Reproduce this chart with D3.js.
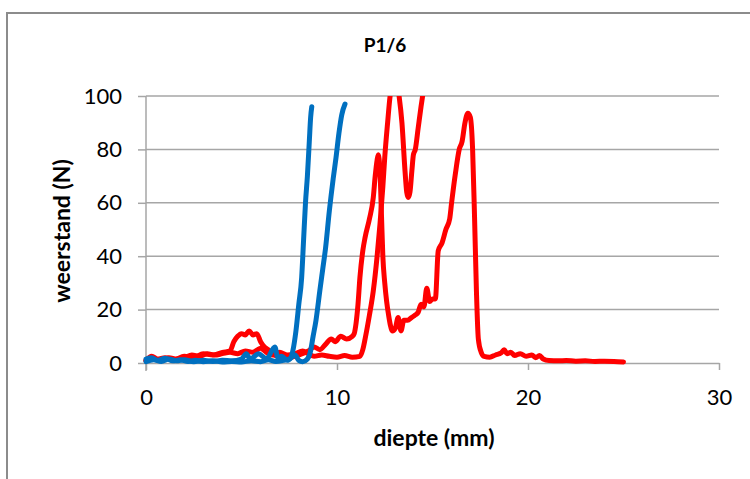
<!DOCTYPE html>
<html>
<head>
<meta charset="utf-8">
<script src="https://cdn.jsdelivr.net/npm/d3@7/dist/d3.min.js"></script>
<style>
  html, body { margin: 0; padding: 0; background: #fff; }
  svg { display: block; font-family: "Lato", "Open Sans", sans-serif; }
</style>
</head>
<body>
<svg id="chart" width="750" height="479"></svg>
<script>
// Penetration tests P1/6: resistance (N) against depth (mm)
const chartTitle = "P1/6";
const xTitle = "diepte (mm)";
const yTitle = "weerstand (N)";
const xTicks = [0, 10, 20, 30];
const yTicks = [0, 20, 40, 60, 80, 100];

// each point: [depth mm, resistance N]
const redRunA = [
  [0,1],[0.3,2.5],[0.6,1.5],[1,2],[1.5,1.2],[2,2.5],[2.5,2],[3,3.5],[3.5,3],[4,4],[4.4,4.5],
  [4.6,8],[4.8,10],[5.0,11],[5.2,10.5],[5.4,12],[5.6,10.5],[5.8,11],[6.0,8],[6.2,6],[6.4,5],
  [6.7,3],[7,2.5],[7.5,2],[8,3],[8.5,4.5],[8.8,6],[9.1,5],[9.4,7],[9.7,9],[9.9,8],[10.2,10],
  [10.5,9],[10.8,10],[10.9,11],[11.0,15],[11.1,22],[11.2,32],[11.35,42],[11.47,47],[11.7,54],
  [11.9,62],[12.0,70],[12.1,76],[12.16,78],[12.25,72],[12.33,55],[12.4,40],[12.5,30],[12.6,23],
  [12.7,18],[12.8,14],[12.9,12],[13.05,13],[13.2,17],[13.35,12],[13.5,16],[13.7,16],[13.9,17],
  [14.1,18],[14.25,19],[14.4,22],[14.55,21],[14.7,28],[14.85,23],[15.0,24],[15.15,24],[15.3,42],
  [15.5,45],[15.7,50],[15.9,54],[16.0,60],[16.2,71],[16.4,80],[16.55,83],[16.7,90],[16.85,93.5],
  [16.98,92],[17.1,80],[17.2,55],[17.3,27],[17.4,9],[17.55,4],[17.7,2.5],[18.0,2.2],[18.3,3],
  [18.6,3.8],[18.75,5],[18.9,3.5],[19.1,4],[19.3,2.8],[19.6,3.5],[19.9,2.5],[20.2,3],[20.4,2],
  [20.6,2.8],[20.8,1.5],[21.1,0.9],[21.6,0.8],[22,0.9],[22.5,0.7],[23,0.8],[23.5,0.6],[24,0.7],
  [24.5,0.6],[25,0.4]
];

const redRunB = [
  [0,0.8],[0.4,1.5],[0.8,1],[1.2,2],[1.6,1.5],[2,2],[2.4,3],[2.8,2.5],[3.2,3.5],[3.6,3],[4,3.5],
  [4.4,4],[4.8,3.5],[5.2,4.5],[5.6,4],[6,5.5],[6.3,4],[6.6,3],[7,4],[7.4,3],[7.8,3.5],[8.2,4.5],
  [8.5,3.5],[8.8,2.5],[9.2,3],[9.6,2.5],[10,2.2],[10.4,2.8],[10.8,2.2],[11.2,2.5],[11.35,5],
  [11.47,9],[11.7,18],[11.9,27],[12.1,40],[12.25,52],[12.4,66],[12.5,77],[12.65,90],[12.78,100],
  [12.9,105],[13.05,108],[13.25,100],[13.4,90],[13.56,72],[13.65,64],[13.73,62],[13.82,64],
  [13.92,72],[14.0,78],[14.1,80],[14.25,88],[14.4,96],[14.5,101],[14.55,104]
];

const blueRunA = [
  [0,1.5],[0.3,2],[0.6,1],[1,1.8],[1.4,0.8],[1.8,1.2],[2.2,0.6],[2.6,1],[3,0.5],[3.5,0.8],[4,0.4],
  [4.5,0.6],[5,0.4],[5.5,0.8],[6,0.5],[6.4,1.2],[6.8,0.6],[7.2,1],[7.5,1.5],[7.7,5],[7.85,12],
  [8.0,22],[8.15,32],[8.25,46],[8.35,60],[8.45,70],[8.55,83],[8.62,92],[8.68,96]
];

const blueRunB = [
  [0,0.5],[0.4,1.2],[0.8,0.6],[1.2,1.5],[1.6,0.8],[2,1.2],[2.5,0.5],[3,1],[3.5,0.6],[4,1],[4.5,0.8],
  [5,1.5],[5.25,3.5],[5.45,1.5],[5.9,3.5],[6.1,2.5],[6.3,1.5],[6.75,6],[6.9,2],[7.1,2.5],[7.4,1],
  [7.8,3],[8.0,1],[8.2,0.5],[8.45,1.5],[8.6,4],[8.75,10],[8.9,16],[9.1,27],[9.25,35],[9.4,43],
  [9.6,57],[9.8,69],[9.95,77],[10.1,86],[10.25,93],[10.42,97]
];

const series = [
  { data: redRunA, color: "#ff0000" },
  { data: redRunB, color: "#ff0000" },
  { data: blueRunA, color: "#0070c0" },
  { data: blueRunB, color: "#0070c0" }
];

const svg = d3.select("#chart");
const plot = { left: 146, right: 719, top: 96, bottom: 363 };

const x = d3.scaleLinear().domain([0, 30]).range([plot.left, plot.right]);
const y = d3.scaleLinear().domain([0, 100]).range([plot.bottom, plot.top]);

// outer chart frame
svg.append("path")
  .attr("d", `M7,479 V13 H750`)
  .attr("fill", "none")
  .attr("stroke", "#8c8c8c")
  .attr("stroke-width", 2);

// title
svg.append("text")
  .attr("x", 385).attr("y", 52)
  .attr("text-anchor", "middle")
  .attr("font-weight", "bold")
  .attr("font-size", 19)
  .attr("fill", "#000")
  .text(chartTitle);

// horizontal gridlines
svg.append("g")
  .selectAll("line")
  .data(yTicks.filter(v => v > 0))
  .join("line")
  .attr("x1", plot.left).attr("x2", plot.right)
  .attr("y1", d => y(d)).attr("y2", d => y(d))
  .attr("stroke", "#a6a6a6")
  .attr("stroke-width", 1.5);

// axes
const yAxis = svg.append("g")
  .attr("transform", `translate(${plot.left},0)`)
  .call(d3.axisLeft(y).tickValues(yTicks).tickSizeInner(8).tickSizeOuter(0).tickPadding(16));
const xAxis = svg.append("g")
  .attr("transform", `translate(0,${plot.bottom})`)
  .call(d3.axisBottom(x).tickValues(xTicks).tickSizeInner(7).tickSizeOuter(0).tickPadding(19));

[yAxis, xAxis].forEach(g => {
  g.select(".domain").attr("stroke", "#a6a6a6").attr("stroke-width", 1.5);
  g.selectAll(".tick line").attr("stroke", "#a6a6a6").attr("stroke-width", 1.5);
  g.selectAll(".tick text")
    .attr("font-family", "Lato, 'Open Sans', sans-serif")
    .attr("font-size", 22)
    .attr("fill", "#000");
});
yAxis.select(".domain").attr("d", `M0,${plot.top}V${plot.bottom + 8}`);

// axis titles
svg.append("text")
  .attr("x", 434).attr("y", 446)
  .attr("text-anchor", "middle")
  .attr("font-weight", "bold")
  .attr("font-size", 23)
  .attr("fill", "#000")
  .text(xTitle);

svg.append("text")
  .attr("transform", `translate(70,231) rotate(-90)`)
  .attr("text-anchor", "middle")
  .attr("font-weight", "bold")
  .attr("font-size", 23)
  .attr("fill", "#000")
  .text(yTitle);

// clip series to the plot area
svg.append("defs").append("clipPath").attr("id", "plotClip")
  .append("rect")
  .attr("x", plot.left - 10).attr("y", plot.top)
  .attr("width", plot.right - plot.left + 20)
  .attr("height", plot.bottom - plot.top + 10);

const line = d3.line()
  .x(d => x(d[0]))
  .y(d => y(d[1]))
  .curve(d3.curveMonotoneX);

svg.append("g")
  .attr("clip-path", "url(#plotClip)")
  .selectAll("path")
  .data(series)
  .join("path")
  .attr("d", d => line(d.data))
  .attr("fill", "none")
  .attr("stroke", d => d.color)
  .attr("stroke-width", 5)
  .attr("stroke-linejoin", "round")
  .attr("stroke-linecap", "round");
</script>
</body>
</html>
